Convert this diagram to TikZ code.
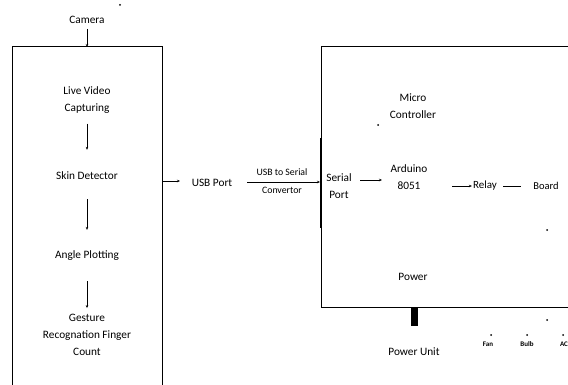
\documentclass[tikz,border=0pt]{standalone}
\usepackage{fontspec}
\setmainfont{Carlito}
\usetikzlibrary{arrows.meta}
\begin{document}
\begin{tikzpicture}[x=1pt,y=-1pt,
  lbl/.style={font=\fontsize{11.3}{17}\selectfont, align=center, inner sep=1pt},
  tiny/.style={font=\bfseries\fontsize{7}{7}\selectfont, inner sep=0.5pt},
  arr/.style={-{Stealth[length=3pt,width=2.5pt]}, line width=0.7pt},
  ln/.style={line width=0.7pt},
  box/.style={draw, line width=1pt},
  speck/.style={fill, circle, inner sep=0pt, minimum size=2pt}]
\useasboundingbox (0,0) rectangle (568,385);
\clip (0,0) rectangle (568,385);
% boxes
\coordinate (lbtl) at (12,47);
\coordinate (lbbr) at (162,400);
\draw[box] (lbtl) rectangle (lbbr);
\coordinate (rbtl) at (321,47);
\coordinate (rbbr) at (580,307);
\draw[box] (rbtl) rectangle (rbbr);
% left column
\node[lbl] (cam) at (87,20) {Camera};
\coordinate (lbtop) at (87,47);
\draw[arr, shorten <=4pt] (cam.south) -- (lbtop);
\node[lbl] (live) at (87,100) {Live Video\\Capturing};
\node[lbl] (skin) at (87,176) {Skin Detector};
\node[lbl] (angle) at (87,256) {Angle Plotting};
\node[lbl] (gest) at (87,335) {Gesture\\Recognation Finger\\Count};
\draw[arr, shorten <=9pt, shorten >=21pt] (live.south) -- (skin.north);
\draw[arr, shorten <=18pt, shorten >=20pt] (skin.south) -- (angle.north);
\draw[arr, shorten <=19pt, shorten >=5pt] (angle.south) -- (gest.north);
% USB
\coordinate (lbout) at (162,181);
\node[lbl] (usb) at (212,183) {USB Port};
\draw[arr] (lbout) -- ++(18,0) coordinate (usbin);
% serial bar
\coordinate (sbtop) at (321,138);
\coordinate (sbbot) at (321,228);
\draw[line width=2.6pt] (sbtop) -- (sbbot);
\coordinate (convs) at (247,182);
\coordinate (conve) at (320,182);
\draw[arr] (convs) -- (conve);
\node[lbl, font=\fontsize{9.8}{10}\selectfont] (conv1) at (282,172) {USB to Serial};
\node[lbl, font=\fontsize{9.8}{10}\selectfont] (conv2) at (282,190) {Convertor};
% right box content
\node[lbl] (micro) at (413,106) {Micro\\Controller};
\node[lbl] (serial) at (339,186) {Serial\\Port};
\node[lbl] (ard) at (409,177) {Arduino\\8051};
\node[lbl, font=\fontsize{11}{10}\selectfont] (relay) at (485,186) {Relay};
\node[lbl, font=\fontsize{10.5}{10}\selectfont] (board) at (546,186) {Board};
\draw[arr] (360,180) -- (382,180);
\draw[arr] (452,186) -- (relay.west);
\draw[ln] (503,186) -- (521,186);
\node[lbl] (power) at (413,277) {Power};
\coordinate (pbtop) at (414,307);
\coordinate (pbbot) at (414,326);
\draw[line width=7pt] (pbtop) -- (pbbot);
\node[lbl] (punit) at (414,352) {Power Unit};
\node[tiny] (fan) at (488,344) {Fan};
\node[tiny] (bulb) at (527,344) {Bulb};
\node[tiny] (ac) at (564,344) {AC};
% specks
\node[speck] at (120,5) {};
\node[speck] at (378,125) {};
\node[speck] at (547,230) {};
\node[speck] at (547,320) {};
\node[speck] at (491,335) {};
\node[speck] at (527,335) {};
\node[speck] at (563,335) {};
\end{tikzpicture}
\end{document}
